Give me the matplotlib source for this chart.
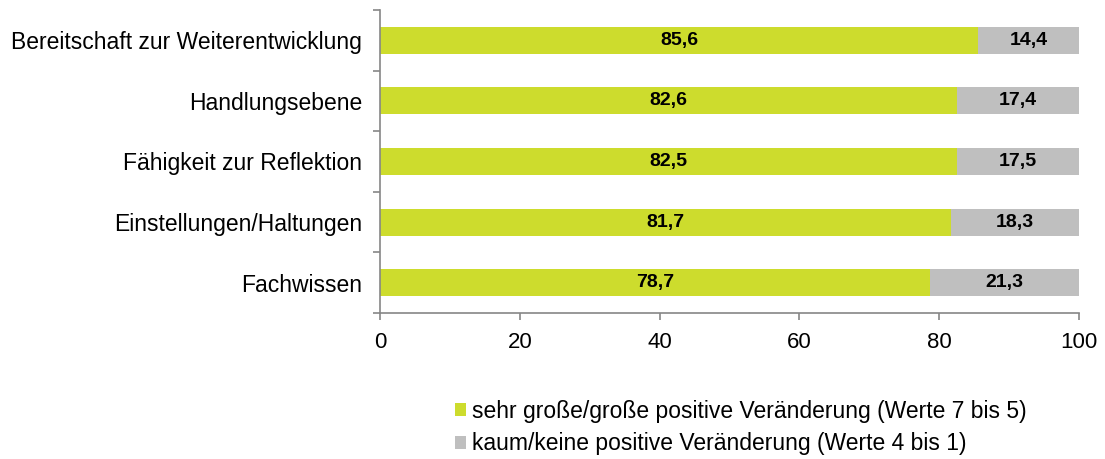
import matplotlib.pyplot as plt
import numpy as np

categories = ["Bereitschaft zur Weiterentwicklung", "Handlungsebene",
              "Fähigkeit zur Reflektion", "Einstellungen/Haltungen", "Fachwissen"]
positive = [85.6, 82.6, 82.5, 81.7, 78.7]
negative = [14.4, 17.4, 17.5, 18.3, 21.3]
series_names = ["sehr große/große positive Veränderung (Werte 7 bis 5)",
                "kaum/keine positive Veränderung (Werte 4 bis 1)"]
x_ticks = [0, 20, 40, 60, 80, 100]

green = "#cddc2d"
grey = "#bfbfbf"
axis_col = "#868686"

plt.rcParams["font.family"] = ["Liberation Sans", "DejaVu Sans"]

fig = plt.figure(figsize=(11.05, 4.59), dpi=100)
ax = fig.add_axes([380 / 1105, 1 - 313 / 459, 699 / 1105, 303 / 459])

y = np.arange(len(categories))
h = 0.445
b1 = ax.barh(y, positive, height=h, color=green, label=series_names[0])
b2 = ax.barh(y, negative, left=positive, height=h, color=grey, label=series_names[1])

# value labels, centred on each segment
for i in range(len(categories)):
    ax.text(positive[i] / 2, y[i], f"{positive[i]:.1f}".replace(".", ","),
            ha="center", va="center", fontsize=14, fontweight="bold")
    ax.text(positive[i] + negative[i] / 2, y[i], f"{negative[i]:.1f}".replace(".", ","),
            ha="center", va="center", fontsize=14, fontweight="bold")

ax.set_xlim(0, 100)
ax.set_ylim(len(categories) - 0.5, -0.5)
ax.set_xticks(x_ticks)
ax.set_xticklabels([str(t) for t in x_ticks], fontsize=16)
ax.set_yticks(y)
ax.set_yticklabels(categories, fontsize=16.5)
ax.set_yticks(np.arange(len(categories) + 1) - 0.5, minor=True)
ax.tick_params(axis="y", which="major", length=0, pad=13)
ax.tick_params(axis="y", which="minor", length=5, color=axis_col, width=1.2)
ax.tick_params(axis="x", length=5, color=axis_col, width=1.2, pad=9)

for s in ["top", "right"]:
    ax.spines[s].set_visible(False)
for s in ["left", "bottom"]:
    ax.spines[s].set_color(axis_col)
    ax.spines[s].set_linewidth(1.2)

fig.legend(handles=[b1, b2], loc="upper left", bbox_to_anchor=(455 / 1105, 1 - 400 / 459),
           frameon=False, fontsize=16.5, handlelength=0.5, handleheight=0.5,
           handletextpad=0.25, labelspacing=0.4, borderpad=0, borderaxespad=0)

fig.savefig("out.png", dpi=100)
